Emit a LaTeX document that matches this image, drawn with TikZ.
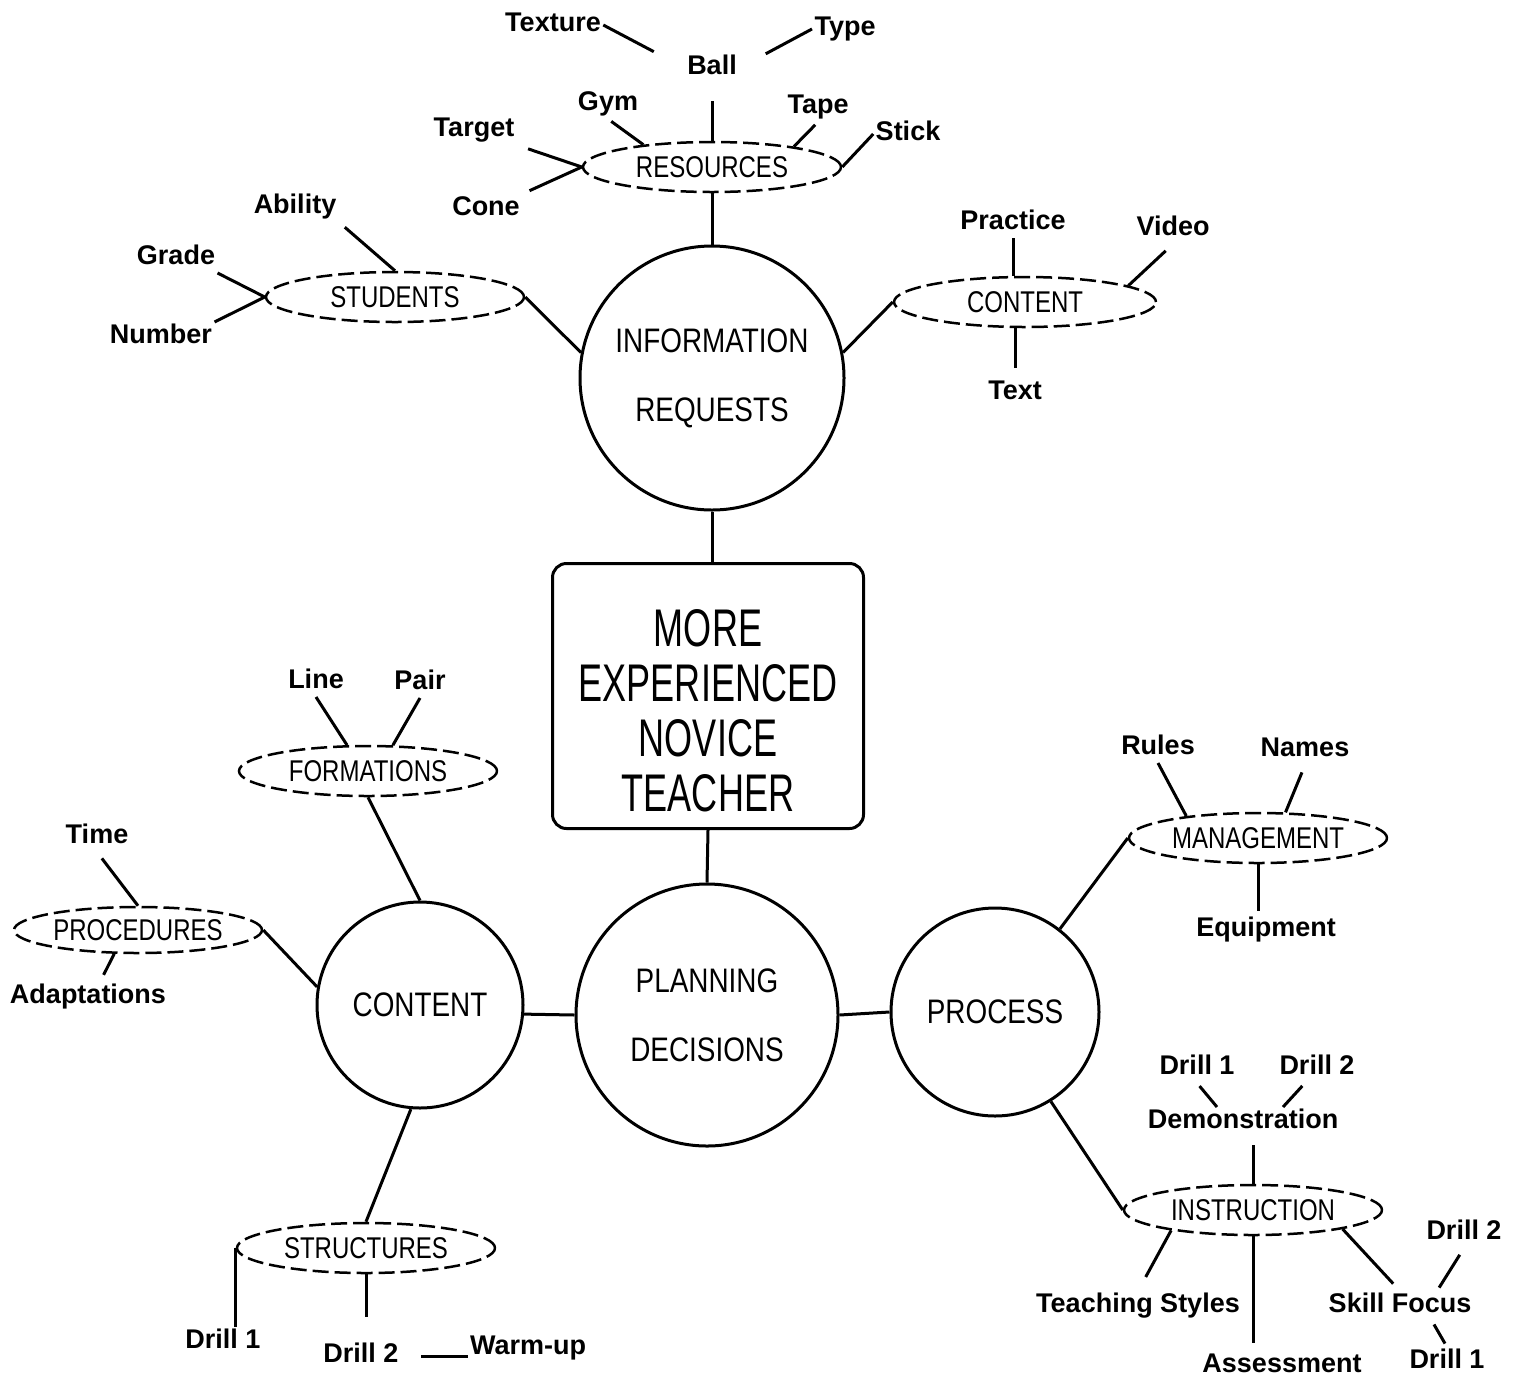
\documentclass[tikz,border=0pt]{standalone}
\usepackage{fontspec}
\setmainfont{Liberation Sans}
\newfontfamily\condfont[FakeStretch=0.8]{Liberation Sans}
\newfontfamily\circfont[FakeStretch=0.82]{Liberation Sans}
\newfontfamily\boxfont[FakeStretch=0.68]{Liberation Sans}
\usetikzlibrary{shapes.geometric}

\begin{document}
\begin{tikzpicture}[x=1pt, y=-1pt, line width=3pt,
	lbl/.style={inner sep=1pt, text height=19pt, text depth=6pt, font=\fontsize{27}{30}\selectfont\bfseries},
	hub/.style={draw, circle, inner sep=0pt, align=center, font=\circfont\fontsize{34}{69}\selectfont},
	tagbox/.style={draw, ellipse, dash pattern=on 16pt off 6pt, line width=2.5pt, minimum width=258pt, minimum height=50pt, inner sep=0pt, font=\condfont\fontsize{30}{32}\selectfont}]
		\useasboundingbox (0,0) rectangle (1520,1382);
		
		% centre
		\node[draw, rounded corners=14pt, minimum width=311pt, minimum height=265pt, text height=230pt, text depth=0pt, align=center, font=\boxfont\fontsize{53}{55}\selectfont] (teacher) at (708,696) {MORE\\EXPERIENCED\\NOVICE\\TEACHER};
		\node[hub, minimum size=264pt] (inforeq) at (712,378) {INFORMATION\\REQUESTS};
		\node[hub, minimum size=262pt] (plandec) at (707,1015) {PLANNING\\DECISIONS};
		\node[hub, minimum size=206pt] (content) at (420,1005) {CONTENT};
		\node[hub, minimum size=208pt] (process) at (995,1012) {PROCESS};
		
		% dashed ovals
		\node[tagbox] (resources) at (712,167) {RESOURCES};
		\node[tagbox] (students) at (395,297) {STUDENTS};
		\node[tagbox, minimum width=262pt] (media) at (1025,302) {CONTENT};
		\node[tagbox] (formations) at (368,771) {FORMATIONS};
		\node[tagbox, minimum width=248pt, minimum height=46pt] (procedures) at (138,930) {PROCEDURES};
		\node[tagbox] (management) at (1258,838) {MANAGEMENT};
		\node[tagbox] (instruction) at (1253,1210) {INSTRUCTION};
		\node[tagbox] (structures) at (366,1248) {STRUCTURES};
		
		% labels
		\node[lbl] (texture) at (553,25) {Texture};
		\node[lbl] (typ) at (845,29) {Type};
		\node[lbl] (ball) at (712,68) {Ball};
		\node[lbl] (gym) at (608,104) {Gym};
		\node[lbl] (tape) at (818,107) {Tape};
		\node[lbl] (target) at (474,130) {Target};
		\node[lbl] (stick) at (908,134) {Stick};
		\node[lbl] (cone) at (486,209) {Cone};
		\node[lbl] (ability) at (295,207) {Ability};
		\node[lbl] (grade) at (176,258) {Grade};
		\node[lbl] (number) at (161,337) {Number};
		\node[lbl] (practice) at (1013,223) {Practice};
		\node[lbl] (video) at (1173,229) {Video};
		\node[lbl] (textlbl) at (1015,393) {Text};
		\node[lbl] (line) at (316,682) {Line};
		\node[lbl] (pair) at (420,683) {Pair};
		\node[lbl] (time) at (97,837) {Time};
		\node[lbl] (adapt) at (88,997) {Adaptations};
		\node[lbl] (rules) at (1158,748) {Rules};
		\node[lbl] (names) at (1305,750) {Names};
		\node[lbl] (equip) at (1266,930) {Equipment};
		\node[lbl] (demoA) at (1197,1068) {Drill 1};
		\node[lbl] (demoB) at (1317,1068) {Drill 2};
		\node[lbl] (demo) at (1243,1122) {Demonstration};
		\node[lbl] (styles) at (1138,1306) {Teaching Styles};
		\node[lbl] (assess) at (1282,1366) {Assessment};
		\node[lbl] (skill) at (1400,1306) {Skill Focus};
		\node[lbl] (skillB) at (1464,1233) {Drill 2};
		\node[lbl] (skillA) at (1447,1362) {Drill 1};
		\node[lbl] (drillA) at (223,1342) {Drill 1};
		\node[lbl] (drillB) at (361,1356) {Drill 2};
		\node[lbl] (warmup) at (528,1348) {Warm-up};
		
		% resources
		\draw[shorten >=35pt] (texture.east) -- (ball.west);
		\draw[shorten <=30pt] (ball.east) -- (typ.west);
		\draw[shorten <=18pt] (ball) -- (resources);
		\draw[shorten <=4pt] (gym.south) -- (resources.162);
		\draw[shorten <=4pt] (tape.south) -- (resources.14);
		\draw[shorten <=12pt] (target.south east) -- (resources.west);
		\draw[shorten <=8pt] (cone.north east) -- (resources.west);
		\draw (resources.east) -- (stick.west);
		\draw (resources) -- (inforeq);
		
		% students
		\draw[shorten <=8pt] (ability.south east) -- (students.north);
		\draw (grade.south east) -- (students.west);
		\draw (number.north east) -- (students.west);
		\draw (students.east) -- (inforeq.169);
		
		% content (top)
		\draw (practice.south) -- (practice.south |- media.north);
		\draw[shorten >=10pt] (textlbl.north |- media.south) -- (textlbl.north);
		\draw[shorten <=10pt] (video.south) -- (media.9);
		\draw (media.west) -- (inforeq.11);
		
		\draw (inforeq.south) -- (inforeq.south |- teacher.north);
		\draw (teacher.south) -- (plandec.north);
		
		% formations and procedures
		\draw (line.south) -- (formations.129);
		\draw (pair.south) -- (formations.46);
		\draw (formations.south) -- (content.north);
		\draw[shorten <=8pt] (time.south) -- (procedures.north);
		\draw[shorten >=8pt] (procedures.-135) -- ([xshift=12pt]adapt.north);
		\draw (procedures.east) -- (content.170);
		\draw (content.-5) -- (plandec.west);
		\draw (plandec.east) -- (process.west);
		
		% structures
		\draw (content.-95) -- (structures.north);
		\draw (structures.west) -- (structures.west |- drillA.north);
		\draw[shorten >=24pt] (structures.south) -- (structures.south |- drillB.north);
		\draw[shorten <=20pt] (drillB.east) -- (drillB.east -| warmup.west);
		
		% management
		\draw (rules.south) -- (management.163);
		\draw[shorten <=8pt] (names.south) -- (management.43);
		\draw[shorten >=4pt] (management.south) -- (management.south |- equip.north);
		\draw (management.west) -- (process.52);
		
		% instruction
		\draw (process.-58) -- (instruction.west);
		\draw[shorten <=8pt] (instruction.north |- demo.south) -- (instruction.north);
		\draw[shorten <=4pt] (demoA.south) -- ([xshift=-26pt]demo.north);
		\draw[shorten <=4pt] ([xshift=-12pt]demoB.south) -- ([xshift=40pt]demo.north);
		\draw[shorten >=16pt] (instruction.-166) -- (styles.north);
		\draw[shorten >=8pt] (instruction.south) -- (instruction.south |- assess.north);
		\draw[shorten >=10pt] (instruction.-12) -- (skill.north);
		\draw[shorten <=4pt, shorten >=8pt] ([xshift=37pt]skill.north) -- (skillB.south);
		\draw[shorten <=4pt, shorten >=4pt] ([xshift=32pt]skill.south) -- (skillA.north);
	\end{tikzpicture}
\end{document}
